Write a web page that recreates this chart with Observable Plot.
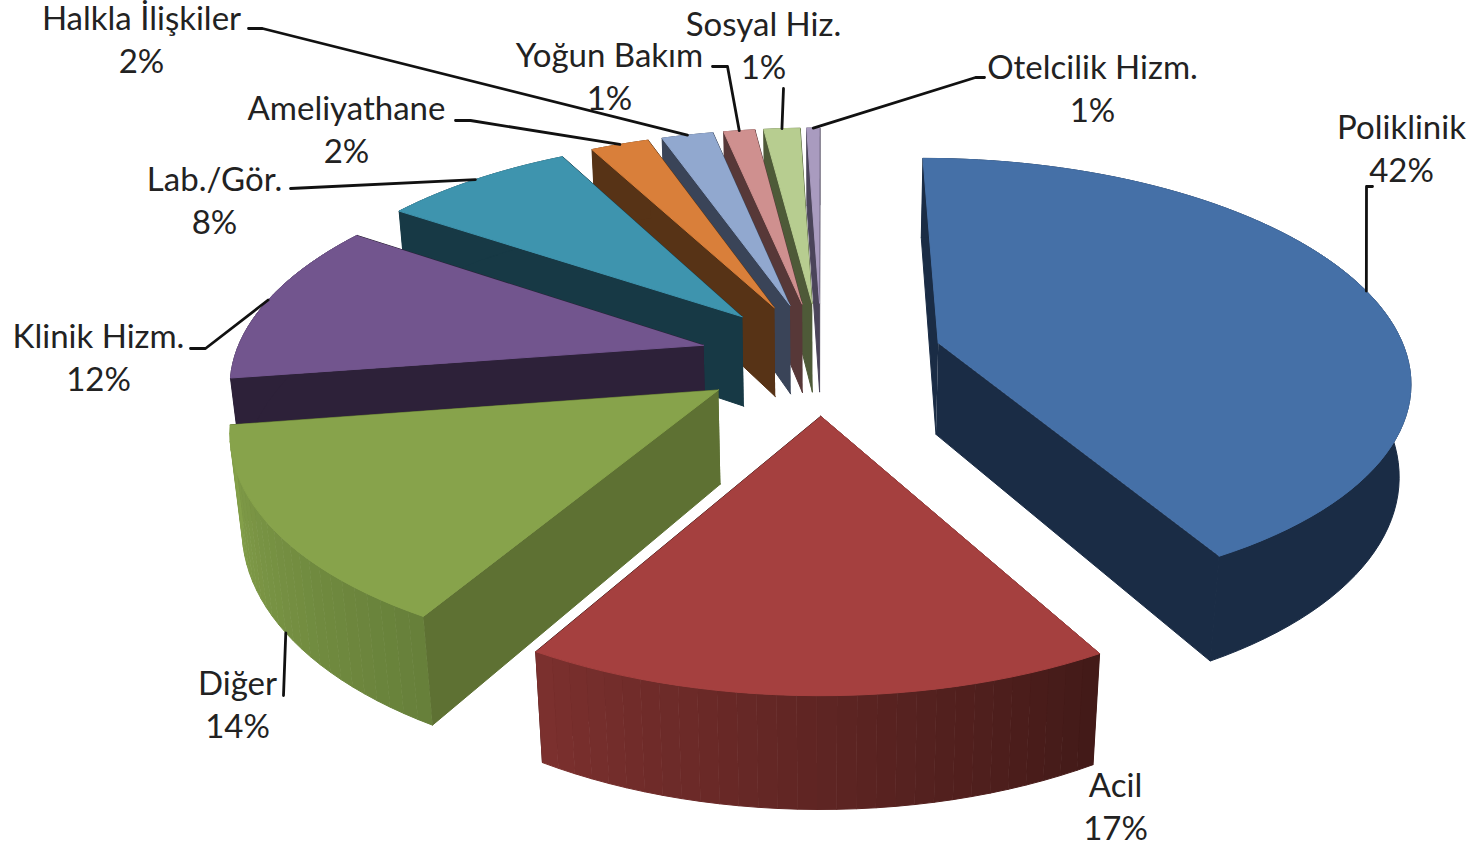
<!DOCTYPE html>
<html><head><meta charset="utf-8">
<script src="https://cdn.jsdelivr.net/npm/d3@7"></script>
<script src="https://cdn.jsdelivr.net/npm/@observablehq/plot@0.6"></script>
<style>html,body{margin:0;padding:0;background:#fff}</style>
</head><body><div id="chart"></div>
<script>
const categories = ["Poliklinik","Acil","Diğer","Klinik Hizm.","Lab./Gör.","Ameliyathane","Halkla İlişkiler","Yoğun Bakım","Sosyal Hiz.","Otelcilik Hizm."];
const values = [41.8,16.6,14.2,11.83,7.81,2.38,2.1,1.27,1.48,0.53];
const percentLabels = ["42%","17%","14%","12%","8%","2%","2%","1%","1%","1%"];
const topColors = ["#4570A7","#A5403F","#87A34B","#72558E","#3E94AE","#D97F3A","#91A8CF","#CF908F","#B7CD90","#A99BBF"];
const sideColors = ["#1A2C45","#431A18","#5E7133","#2D2139","#173945","#573316","#3A4458","#573838","#4E5A38","#4B445A"];
const wallFrom = ["#1A2C45","#431A18","#67803A","#2D2139","#173945","#573316","#3A4458","#573838","#4E5A38","#4B445A"];
const wallTo   = ["#1A2C45","#7B302E","#84A04A","#2D2139","#173945","#573316","#3A4458","#573838","#4E5A38","#4B445A"];
// label layout
const labelX = [1401,1115,237,98,214,346,141,609,763,1092];
const labelY = [146,804,702,355,198,127,37,74,43,86];
const elbows = [
  [[1366,186],[1372,186]], [], [[283,695]], [[205,348],[190,348]], [[290,188]],
  [[470,120],[455,120]], [[262,28],[248,28]], [[727,66],[712,66]], [[783,88]], [[975,77],[984,77]]
];
const leaderOnBase = [false,false,true,false,false,false,false,false,false,false];

// pie projection parameters
const cx=821, cy=357, Rx=469, Ry=217, persp=0.152, depth=92, shrink=0.02, explode=0.26;
const project=(px,py,z)=>{const w=1-persp*py,s=1/w;return {x:cx+Rx*px/(w+shrink*z),y:cy+(Ry*py+depth*z)*s};};

const rad=d=>d*Math.PI/180;
const total=d3.sum(values);
let acc=-90;
const slices=values.map((v,i)=>{const a0=acc;acc+=v/total*360;const mid=(a0+acc)/2;
  return {i,a0,a1:acc,mid,ox:explode*Math.cos(rad(mid)),oy:explode*Math.sin(rad(mid))};});
const at=(sl,a,r,z)=>project(sl.ox+r*Math.cos(rad(a)),sl.oy+r*Math.sin(rad(a)),z);
const steps=(a0,a1)=>{const n=Math.max(2,Math.ceil((a1-a0)/2));return d3.range(n+1).map(k=>a0+(a1-a0)*k/n);};

const faces=[];
const addFace=(pts,color)=>{const id=faces.length?faces[faces.length-1].id+1:0;pts.forEach(p=>faces.push({id,x:p.x,y:p.y,color}));};
// back to front: small back slices first, red last
const drawOrder=[9,8,7,6,5,4,3,2,0,1];
for(const i of drawOrder){
  const sl=slices[i];
  for(const a of [sl.a1,sl.a0]){
    addFace([at(sl,a,0,0),at(sl,a,1,0),at(sl,a,1,1),at(sl,a,0,1)],sideColors[i]);
  }
  const A=steps(sl.a0,sl.a1), mixer=d3.interpolateRgb(wallFrom[i],wallTo[i]);
  if(wallFrom[i]===wallTo[i]){
    addFace([...A.map(a=>at(sl,a,1,0)),...A.slice().reverse().map(a=>at(sl,a,1,1))],wallFrom[i]);
  } else {
    for(let k=0;k<A.length-1;k++){
      addFace([at(sl,A[k],1,0),at(sl,A[k+1],1,0),at(sl,A[k+1],1,1),at(sl,A[k],1,1)],mixer(k/(A.length-2)));
    }
  }
  addFace([at(sl,sl.a0,0,0),...A.map(a=>at(sl,a,1,0))],topColors[i]);
}

const leaders=[];
slices.forEach((sl,i)=>{
  if(!elbows[i].length) return;
  const s=at(sl,sl.mid,1,leaderOnBase[i]?1:0);
  [s,...elbows[i].map(([x,y])=>({x,y}))].forEach(p=>leaders.push({id:i,x:p.x,y:p.y}));
});
const labels=categories.map((c,i)=>({text:c+"\n"+percentLabels[i],x:labelX[i],y:labelY[i]}));

const chart=Plot.plot({
  width:1483,height:845,margin:0,
  x:{domain:[0,1483],range:[0,1483],axis:null},
  y:{domain:[0,845],range:[0,845],axis:null},
  style:{background:"#fff"},
  marks:[
    Plot.line(faces,{x:"x",y:"y",z:"id",fill:"color",stroke:"color",strokeWidth:1,curve:"linear"}),
    Plot.line(leaders,{x:"x",y:"y",z:"id",stroke:"#111",strokeWidth:2.8,curve:"linear"}),
    Plot.text(labels,{x:"x",y:"y",text:"text",fontSize:33,lineHeight:1.3,fill:"#222",fontFamily:"Lato",textAnchor:"middle",lineAnchor:"middle"})
  ]
});
document.getElementById("chart").append(chart);
</script></body></html>
